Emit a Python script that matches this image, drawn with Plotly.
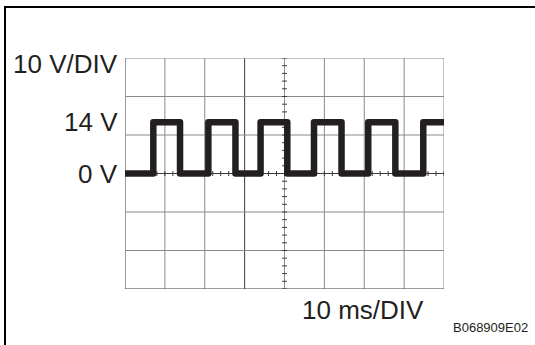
import plotly.graph_objects as go

# Waveform (time in ms, voltage in V)
time_ms = [0, 7.1, 13.8, 20.9, 27.7, 34.0, 40.7, 47.4, 54.3, 61.0, 67.8, 74.8, 80]
voltage_v = [0, 13.3, 0, 13.3, 0, 13.3, 0, 13.3, 0, 13.3, 0, 13.3, 13.3]

# Graticule: 8 divisions of 10 ms, 6 divisions of 10 V
x_divs = list(range(0, 81, 10))
y_divs = list(range(-30, 31, 10))
x_minor = [t / 10 for t in range(0, 801, 20)]
y_minor = [v / 10 for v in range(-300, 301, 20)]

level_labels = ["14 V", "0 V"]
level_values = [13.3, 0]
volt_scale_label = "10 V/DIV"
time_scale_label = "10 ms/DIV"
figure_code = "B068909E02"

INK = "#231f20"
GRID = "#8a8a8a"
DARK = "#3a3a3a"
FONT = "Liberation Sans, Arial, sans-serif"

fig = go.Figure()
fig.add_trace(go.Scatter(
    x=time_ms, y=voltage_v, mode="lines",
    line=dict(shape="hv", color=INK, width=6.5),
    hoverinfo="skip", showlegend=False,
))

shapes = []
for xv in x_divs:
    col = DARK if xv in (0, 30) else GRID
    shapes.append(dict(type="line", xref="x", yref="y", x0=xv, x1=xv,
                       y0=y_divs[0], y1=y_divs[-1], line=dict(color=col, width=1), layer="below"))
for yv in y_divs:
    col = DARK if yv in (0, -30) else GRID
    shapes.append(dict(type="line", xref="x", yref="y", y0=yv, y1=yv,
                       x0=x_divs[0], x1=x_divs[-1], line=dict(color=col, width=1), layer="below"))
# minor ticks on the centre vertical line
for yv in y_minor:
    shapes.append(dict(type="line", xref="x", yref="y", xsizemode="pixel", xanchor=40,
                       x0=-2.5, x1=2.5, y0=yv, y1=yv, line=dict(color=DARK, width=1), layer="below"))
# minor ticks on the 0 V line
for xv in x_minor:
    shapes.append(dict(type="line", xref="x", yref="y", ysizemode="pixel", yanchor=0,
                       y0=-2.5, y1=2.5, x0=xv, x1=xv, line=dict(color=DARK, width=1), layer="below"))
# page frame (left and top)
shapes.append(dict(type="line", xref="paper", yref="paper", x0=-120/319, x1=-120/319,
                   y0=-56/231, y1=(289-6)/231, line=dict(color="black", width=2)))
shapes.append(dict(type="line", xref="paper", yref="paper", x0=-121/319, x1=(535-125)/319,
                   y0=(289-7)/231, y1=(289-7)/231, line=dict(color="black", width=2)))

annotations = []
for lab, val in zip(level_labels, level_values):
    annotations.append(dict(text=lab, xref="paper", yref="y", x=0, y=val, xanchor="right",
                            yanchor="middle", xshift=-5, showarrow=False,
                            font=dict(family=FONT, size=26, color=INK)))
annotations.append(dict(text=volt_scale_label, xref="paper", yref="y", x=0, y=y_divs[-1],
                        xanchor="right", yanchor="middle", xshift=-5, yshift=-6, showarrow=False,
                        font=dict(family=FONT, size=26, color=INK)))
annotations.append(dict(text=time_scale_label, xref="x", yref="paper", x=59.7, y=0,
                        xanchor="center", yanchor="middle", yshift=-21, showarrow=False,
                        font=dict(family=FONT, size=26, color=INK)))
annotations.append(dict(text=figure_code, xref="paper", yref="paper", x=1, y=0,
                        xanchor="right", yanchor="middle", xshift=86, yshift=-38, showarrow=False,
                        font=dict(family=FONT, size=13, color=INK)))

fig.update_layout(
    width=535, height=345,
    margin=dict(l=125, r=91, t=58, b=56),
    paper_bgcolor="white", plot_bgcolor="white",
    xaxis=dict(range=[0, 80], showgrid=False, zeroline=False, showticklabels=False,
               ticks="", showline=False, fixedrange=True),
    yaxis=dict(range=[-30, 30], showgrid=False, zeroline=False, showticklabels=False,
               ticks="", showline=False, fixedrange=True),
    shapes=shapes, annotations=annotations,
    showlegend=False,
)

fig.write_html(
    "out.html",
    config={"displayModeBar": False},
    post_script=(
        "document.body.style.margin='0';document.body.style.overflow='hidden';"
        "document.querySelectorAll('.scatterlayer path.js-line').forEach(function(p){"
        "p.style.strokeLinejoin='round';});"
    ),
)
